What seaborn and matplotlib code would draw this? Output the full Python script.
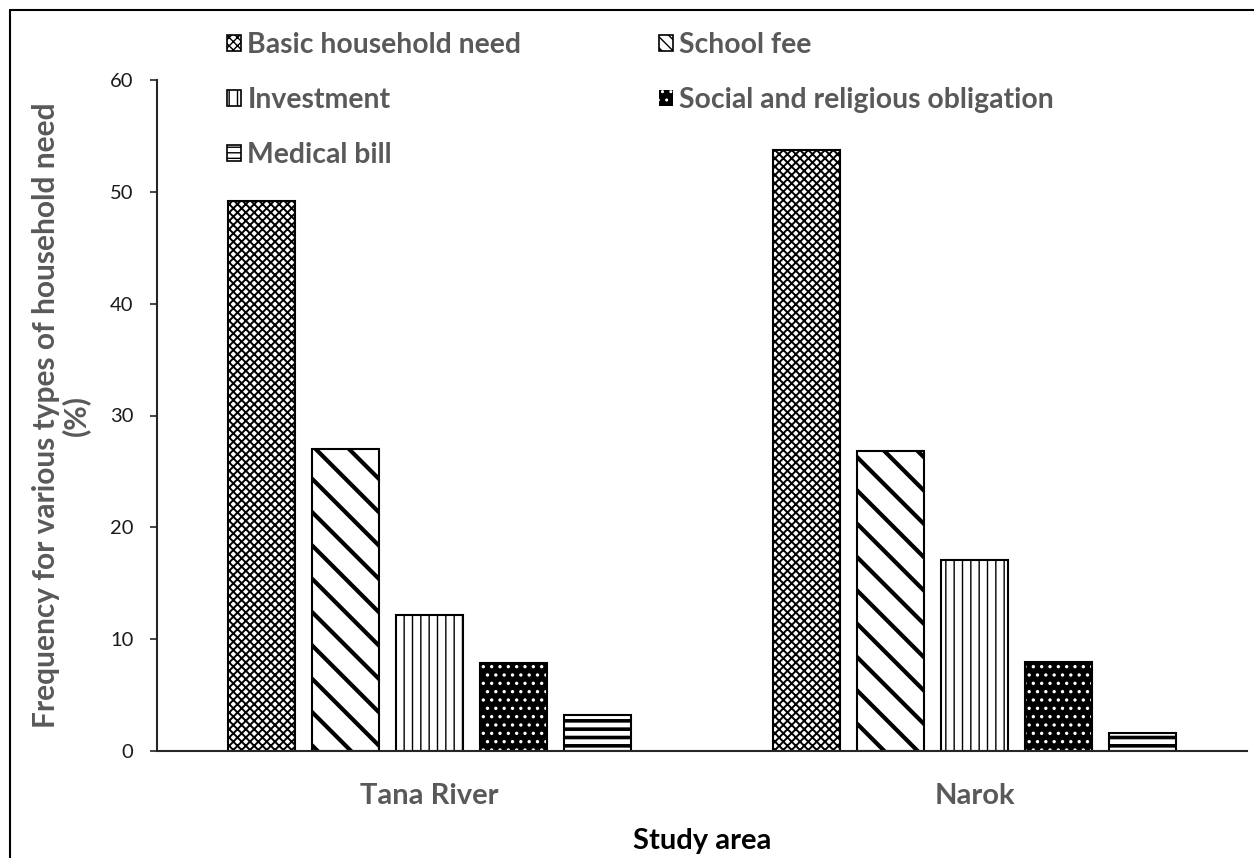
import matplotlib
matplotlib.use("Agg")
import matplotlib as mpl
import matplotlib.pyplot as plt
import seaborn as sns
import pandas as pd
from matplotlib.patches import Patch, Rectangle
from matplotlib.lines import Line2D

areas = ["Tana River", "Narok"]
needs = ["Basic household need", "School fee", "Investment",
         "Social and religious obligation", "Medical bill"]
tana_values = [49.2, 27.0, 12.2, 7.9, 3.2]
narok_values = [53.7, 26.8, 17.1, 8.0, 1.6]
y_ticks = [0, 10, 20, 30, 40, 50, 60]

sns.set_style("white")
plt.rcParams["font.family"] = ["Lato", "DejaVu Sans"]

rows = []
for need, tv, nv in zip(needs, tana_values, narok_values):
    rows.append({"area": areas[0], "need": need, "value": tv})
    rows.append({"area": areas[1], "need": need, "value": nv})
df = pd.DataFrame(rows)

fig = plt.figure(figsize=(12.54, 8.58), dpi=100)
ax = fig.add_axes([157/1254, 1-751/858, (1247-157)/1254, (751-80)/858])

palette = ["white", "white", "white", "black", "white"]
sns.barplot(data=df, x="area", y="value", hue="need", order=areas,
            hue_order=needs, palette=palette, saturation=1,
            width=0.77, gap=0.21, edgecolor="black", linewidth=1.5,
            legend=False, ax=ax)

hatches = ["xxxx", "\\", "||", "..", "--"]
hlw = [1.4, 3.0, 1.0, 1.2, 2.6]


def apply_hlw(p, w):
    if hasattr(p, "set_hatch_linewidth"):
        p.set_hatch_linewidth(w)
    if hasattr(p, "_hatch_linewidth"):
        p._hatch_linewidth = w
    orig = p.draw

    def draw(renderer, orig=orig, w=w):
        with mpl.rc_context({"hatch.linewidth": w}):
            orig(renderer)
    p.draw = draw


for i, cont in enumerate(ax.containers):
    for p in cont.patches:
        p.set_hatch(hatches[i])
        if needs[i].startswith("Social"):
            p.set_facecolor("black")
            p.set_edgecolor("white")
            p.set_linewidth(0)
            ax.add_patch(Rectangle(p.get_xy(), p.get_width(), p.get_height(),
                                   fill=False, edgecolor="black", linewidth=1.5))
        apply_hlw(p, hlw[i])

ax.set_ylim(0, 60)
ax.set_yticks(y_ticks)
ax.set_yticklabels([str(t) for t in y_ticks], fontsize=14.5, color="#1a1a1a")
ax.tick_params(axis="y", direction="out", length=5, width=1.2, color="#262626",
               pad=12, left=True)
ax.tick_params(axis="x", length=0, pad=23)
for lbl in ax.get_xticklabels():
    lbl.set_fontsize(21)
    lbl.set_fontweight("bold")
    lbl.set_color("#595959")

for s in ["top", "right"]:
    ax.spines[s].set_visible(False)
for s in ["left", "bottom"]:
    ax.spines[s].set_color("#262626")
    ax.spines[s].set_linewidth(1.5)

ax.set_xlabel("Study area", fontsize=21, fontweight="bold", color="black", labelpad=14)
ax.set_ylabel("Frequency for various types of household need\n(%)", fontsize=21.5,
              fontweight="bold", color="#595959", labelpad=14, linespacing=1.08)

# legend (row-major order as in the reference: 2 columns, 3 rows)
order = [0, 2, 4, 1, 3]
legend_hatch = ["xxxx", "\\\\\\", "||", "..", "---"]
handles, labels = [], []
for i in order:
    if needs[i].startswith("Social"):
        h = Patch(facecolor="black", edgecolor="white", hatch=legend_hatch[i], linewidth=0)
    else:
        h = Patch(facecolor="white", edgecolor="black", hatch=legend_hatch[i], linewidth=1.2)
    handles.append(h)
    labels.append(needs[i])
leg = ax.legend(handles=handles, labels=labels, ncol=2, frameon=False,
                loc="upper left", bbox_to_anchor=(227/1254, 1-32/858),
                bbox_transform=fig.transFigure,
                fontsize=20.4, handlelength=0.5, handleheight=0.5,
                handletextpad=0.22, columnspacing=4.85, labelspacing=1.02,
                borderaxespad=0, borderpad=0)
for t in leg.get_texts():
    t.set_color("#595959")
    t.set_fontweight("bold")

# frame of the chart area
fig.add_artist(Line2D([10/1254, 1.0], [1-10/858, 1-10/858], color="black",
                      linewidth=1.5, transform=fig.transFigure))
fig.add_artist(Line2D([10/1254, 10/1254], [0, 1-10/858], color="black",
                      linewidth=1.5, transform=fig.transFigure))

fig.savefig("out.png", dpi=100, facecolor="white")
